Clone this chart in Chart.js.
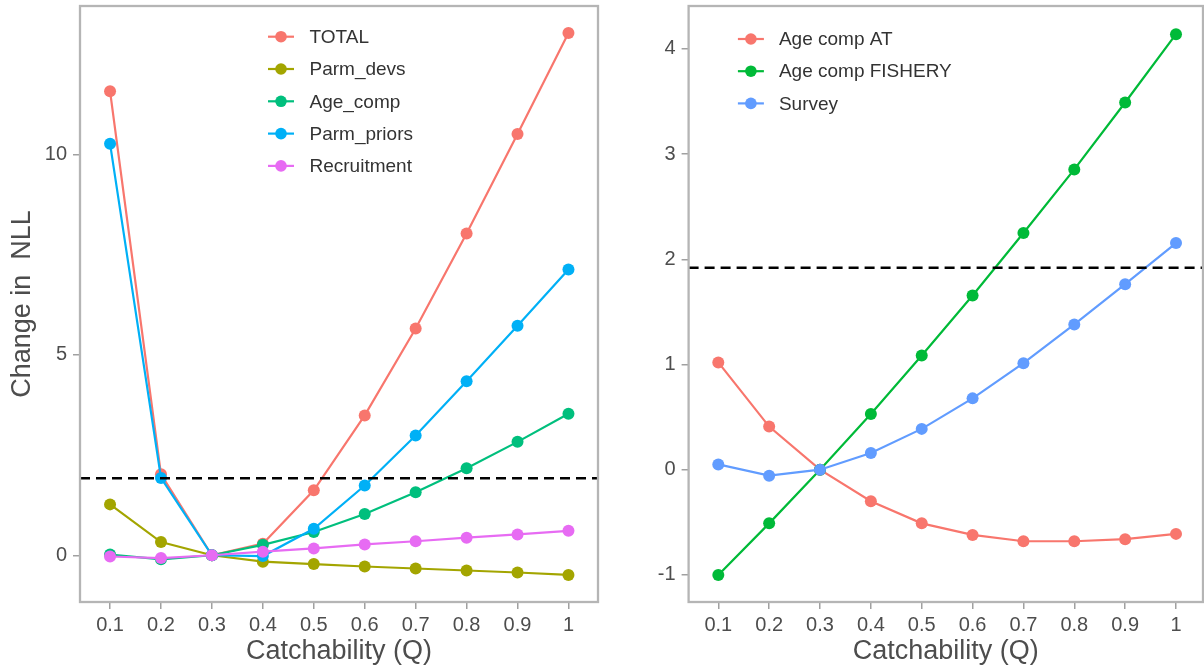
<!DOCTYPE html>
<html><head><meta charset="utf-8">
<script src="https://cdn.jsdelivr.net/npm/chart.js@4.4.0/dist/chart.umd.min.js"></script>
<style>
html,body{margin:0;padding:0;background:#fff;overflow:hidden;}
#wrap{position:relative;width:1204px;height:670px;background:#fff;}
canvas{position:absolute;top:0;}
#c1{left:0;} #c2{left:600px;}
</style></head><body>
<div id="wrap"><canvas id="c1" width="600" height="670"></canvas><canvas id="c2" width="604" height="670"></canvas></div>
<script>
// ---- data ----
const catchability = [0.1, 0.2, 0.3, 0.4, 0.5, 0.6, 0.7, 0.8, 0.9, 1.0];
const xTickLabels = ['0.1', '0.2', '0.3', '0.4', '0.5', '0.6', '0.7', '0.8', '0.9', '1'];

const leftSeriesNames = ['TOTAL', 'Parm_devs', 'Age_comp', 'Parm_priors', 'Recruitment'];
const total       = [11.58, 2.02, 0, 0.29, 1.62, 3.49, 5.66, 8.03, 10.51, 13.03];
const parmDevs    = [1.27, 0.33, 0, -0.16, -0.22, -0.28, -0.33, -0.38, -0.43, -0.49];
const ageComp     = [0.02, -0.10, 0, 0.26, 0.58, 1.03, 1.57, 2.17, 2.83, 3.53];
const parmPriors  = [10.27, 1.93, 0, -0.02, 0.66, 1.74, 2.99, 4.34, 5.73, 7.13];
const recruitment = [-0.03, -0.07, 0, 0.09, 0.17, 0.27, 0.35, 0.44, 0.52, 0.61];

const rightSeriesNames = ['Age comp AT', 'Age comp FISHERY', 'Survey'];
const ageCompAT      = [1.02, 0.41, 0, -0.30, -0.51, -0.62, -0.68, -0.68, -0.66, -0.61];
const ageCompFishery = [-1.00, -0.51, 0, 0.53, 1.085, 1.656, 2.25, 2.854, 3.49, 4.14];
const survey         = [0.05, -0.057, 0, 0.158, 0.388, 0.678, 1.012, 1.381, 1.763, 2.154];

const leftYTicks = [0, 5, 10];
const rightYTicks = [-1, 0, 1, 2, 3, 4];
const threshold = 1.92;

// ---- styling ----
const leftColors = ['#F8766D', '#A3A500', '#00BF7D', '#00B0F6', '#E76BF3'];
const rightColors = ['#F8766D', '#00BA38', '#619CFF'];
const FONT = '"Liberation Sans", Arial, sans-serif';
const TXT = '#4d4d4d';

function makeDatasets(names, series, colors) {
  return names.map((name, i) => ({
    label: name,
    data: catchability.map((q, j) => ({x: q, y: series[i][j]})),
    borderColor: colors[i],
    backgroundColor: colors[i],
    pointBackgroundColor: colors[i],
    pointBorderWidth: 0,
    pointRadius: 6,
    borderWidth: 2.2,
    tension: 0,
    order: -i
  }));
}

const decorPlugin = {
  id: 'decor',
  afterDatasetsDraw(chart, args, opts) {
    const {ctx, chartArea: a, scales: {y}} = chart;
    const py = y.getPixelForValue(threshold);
    ctx.save();
    ctx.beginPath();
    ctx.rect(a.left, a.top, a.right - a.left, a.bottom - a.top);
    ctx.clip();
    ctx.strokeStyle = '#000';
    ctx.lineWidth = 2.5;
    ctx.setLineDash([10, 6]);
    ctx.beginPath();
    ctx.moveTo(a.left, py);
    ctx.lineTo(a.right, py);
    ctx.stroke();
    ctx.restore();
  },
  afterDraw(chart, args, opts) {
    const {ctx, chartArea: a} = chart;
    ctx.save();
    ctx.strokeStyle = '#b5b5b5';
    ctx.lineWidth = 2.3;
    ctx.strokeRect(a.left, a.top, a.right - a.left, a.bottom - a.top);
    const lg = opts.legend;
    ctx.font = lg.fontSize + 'px ' + FONT;
    ctx.textBaseline = 'middle';
    ctx.textAlign = 'left';
    chart.data.datasets.forEach((ds, i) => {
      const x = a.left + lg.x;
      const yy = a.top + lg.y + i * lg.step;
      ctx.strokeStyle = ds.borderColor;
      ctx.lineWidth = 2.2;
      ctx.setLineDash([]);
      ctx.beginPath();
      ctx.moveTo(x, yy);
      ctx.lineTo(x + lg.keyWidth, yy);
      ctx.stroke();
      ctx.fillStyle = ds.borderColor;
      ctx.beginPath();
      ctx.arc(x + lg.keyWidth / 2, yy, 5.8, 0, Math.PI * 2);
      ctx.fill();
      ctx.fillStyle = '#333';
      ctx.fillText(ds.label, x + lg.textOffset, yy + 1);
    });
    ctx.restore();
  }
};

function makeOptions(xMin, xMax, yMin, yMax, yTicks, yWidth, yTitle, legendOpts, padRight) {
  return {
    responsive: false,
    animation: false,
    events: [],
    layout: {autoPadding: false, padding: {top: 6, right: padRight, left: 0, bottom: 0}},
    plugins: {
      legend: {display: false},
      tooltip: {enabled: false},
      decor: {legend: legendOpts}
    },
    scales: {
      x: {
        type: 'linear',
        min: xMin, max: xMax,
        afterBuildTicks: s => { s.ticks = catchability.map(v => ({value: v})); },
        afterFit: s => { s.height = 68; s.paddingLeft = 0; s.paddingRight = 0; },
        ticks: {
          callback: (v, i) => xTickLabels[i],
          font: {size: 20, family: FONT}, color: TXT,
          padding: 4, maxRotation: 0, autoSkip: false
        },
        grid: {drawOnChartArea: false, tickLength: 7, color: '#a0a0a0', lineWidth: 1.5},
        border: {display: false},
        title: {display: true, text: 'Catchability (Q)', font: {size: 27, family: FONT}, color: TXT, padding: {top: 0, bottom: 2}}
      },
      y: {
        type: 'linear',
        min: yMin, max: yMax,
        afterBuildTicks: s => { s.ticks = yTicks.map(v => ({value: v})); },
        afterFit: s => { s.width = yWidth; s.paddingTop = 0; s.paddingBottom = 0; },
        ticks: {font: {size: 20, family: FONT}, color: TXT, padding: 6, callback: v => String(v)},
        grid: {drawOnChartArea: false, tickLength: 7, color: '#a0a0a0', lineWidth: 1.5},
        border: {display: false},
        title: {display: !!yTitle, text: yTitle || '', font: {size: 27, family: FONT}, color: TXT, padding: {top: 6, bottom: 0}}
      }
    }
  };
}

new Chart(document.getElementById('c1'), {
  type: 'line',
  data: {datasets: makeDatasets(leftSeriesNames, [total, parmDevs, ageComp, parmPriors, recruitment], leftColors)},
  options: makeOptions(0.041, 1.058, -1.166, 13.706, leftYTicks, 80, 'Change in  NLL',
    {x: 188, y: 30.7, step: 32.3, keyWidth: 26, textOffset: 41.5, fontSize: 19}, 2),
  plugins: [decorPlugin]
});

new Chart(document.getElementById('c2'), {
  type: 'line',
  data: {datasets: makeDatasets(rightSeriesNames, [ageCompAT, ageCompFishery, survey], rightColors)},
  options: makeOptions(0.0416, 1.0531, -1.2575, 4.4075, rightYTicks, 88.6, null,
    {x: 49.3, y: 33, step: 32.2, keyWidth: 26, textOffset: 41, fontSize: 19}, 1),
  plugins: [decorPlugin]
});
</script>
</body></html>
